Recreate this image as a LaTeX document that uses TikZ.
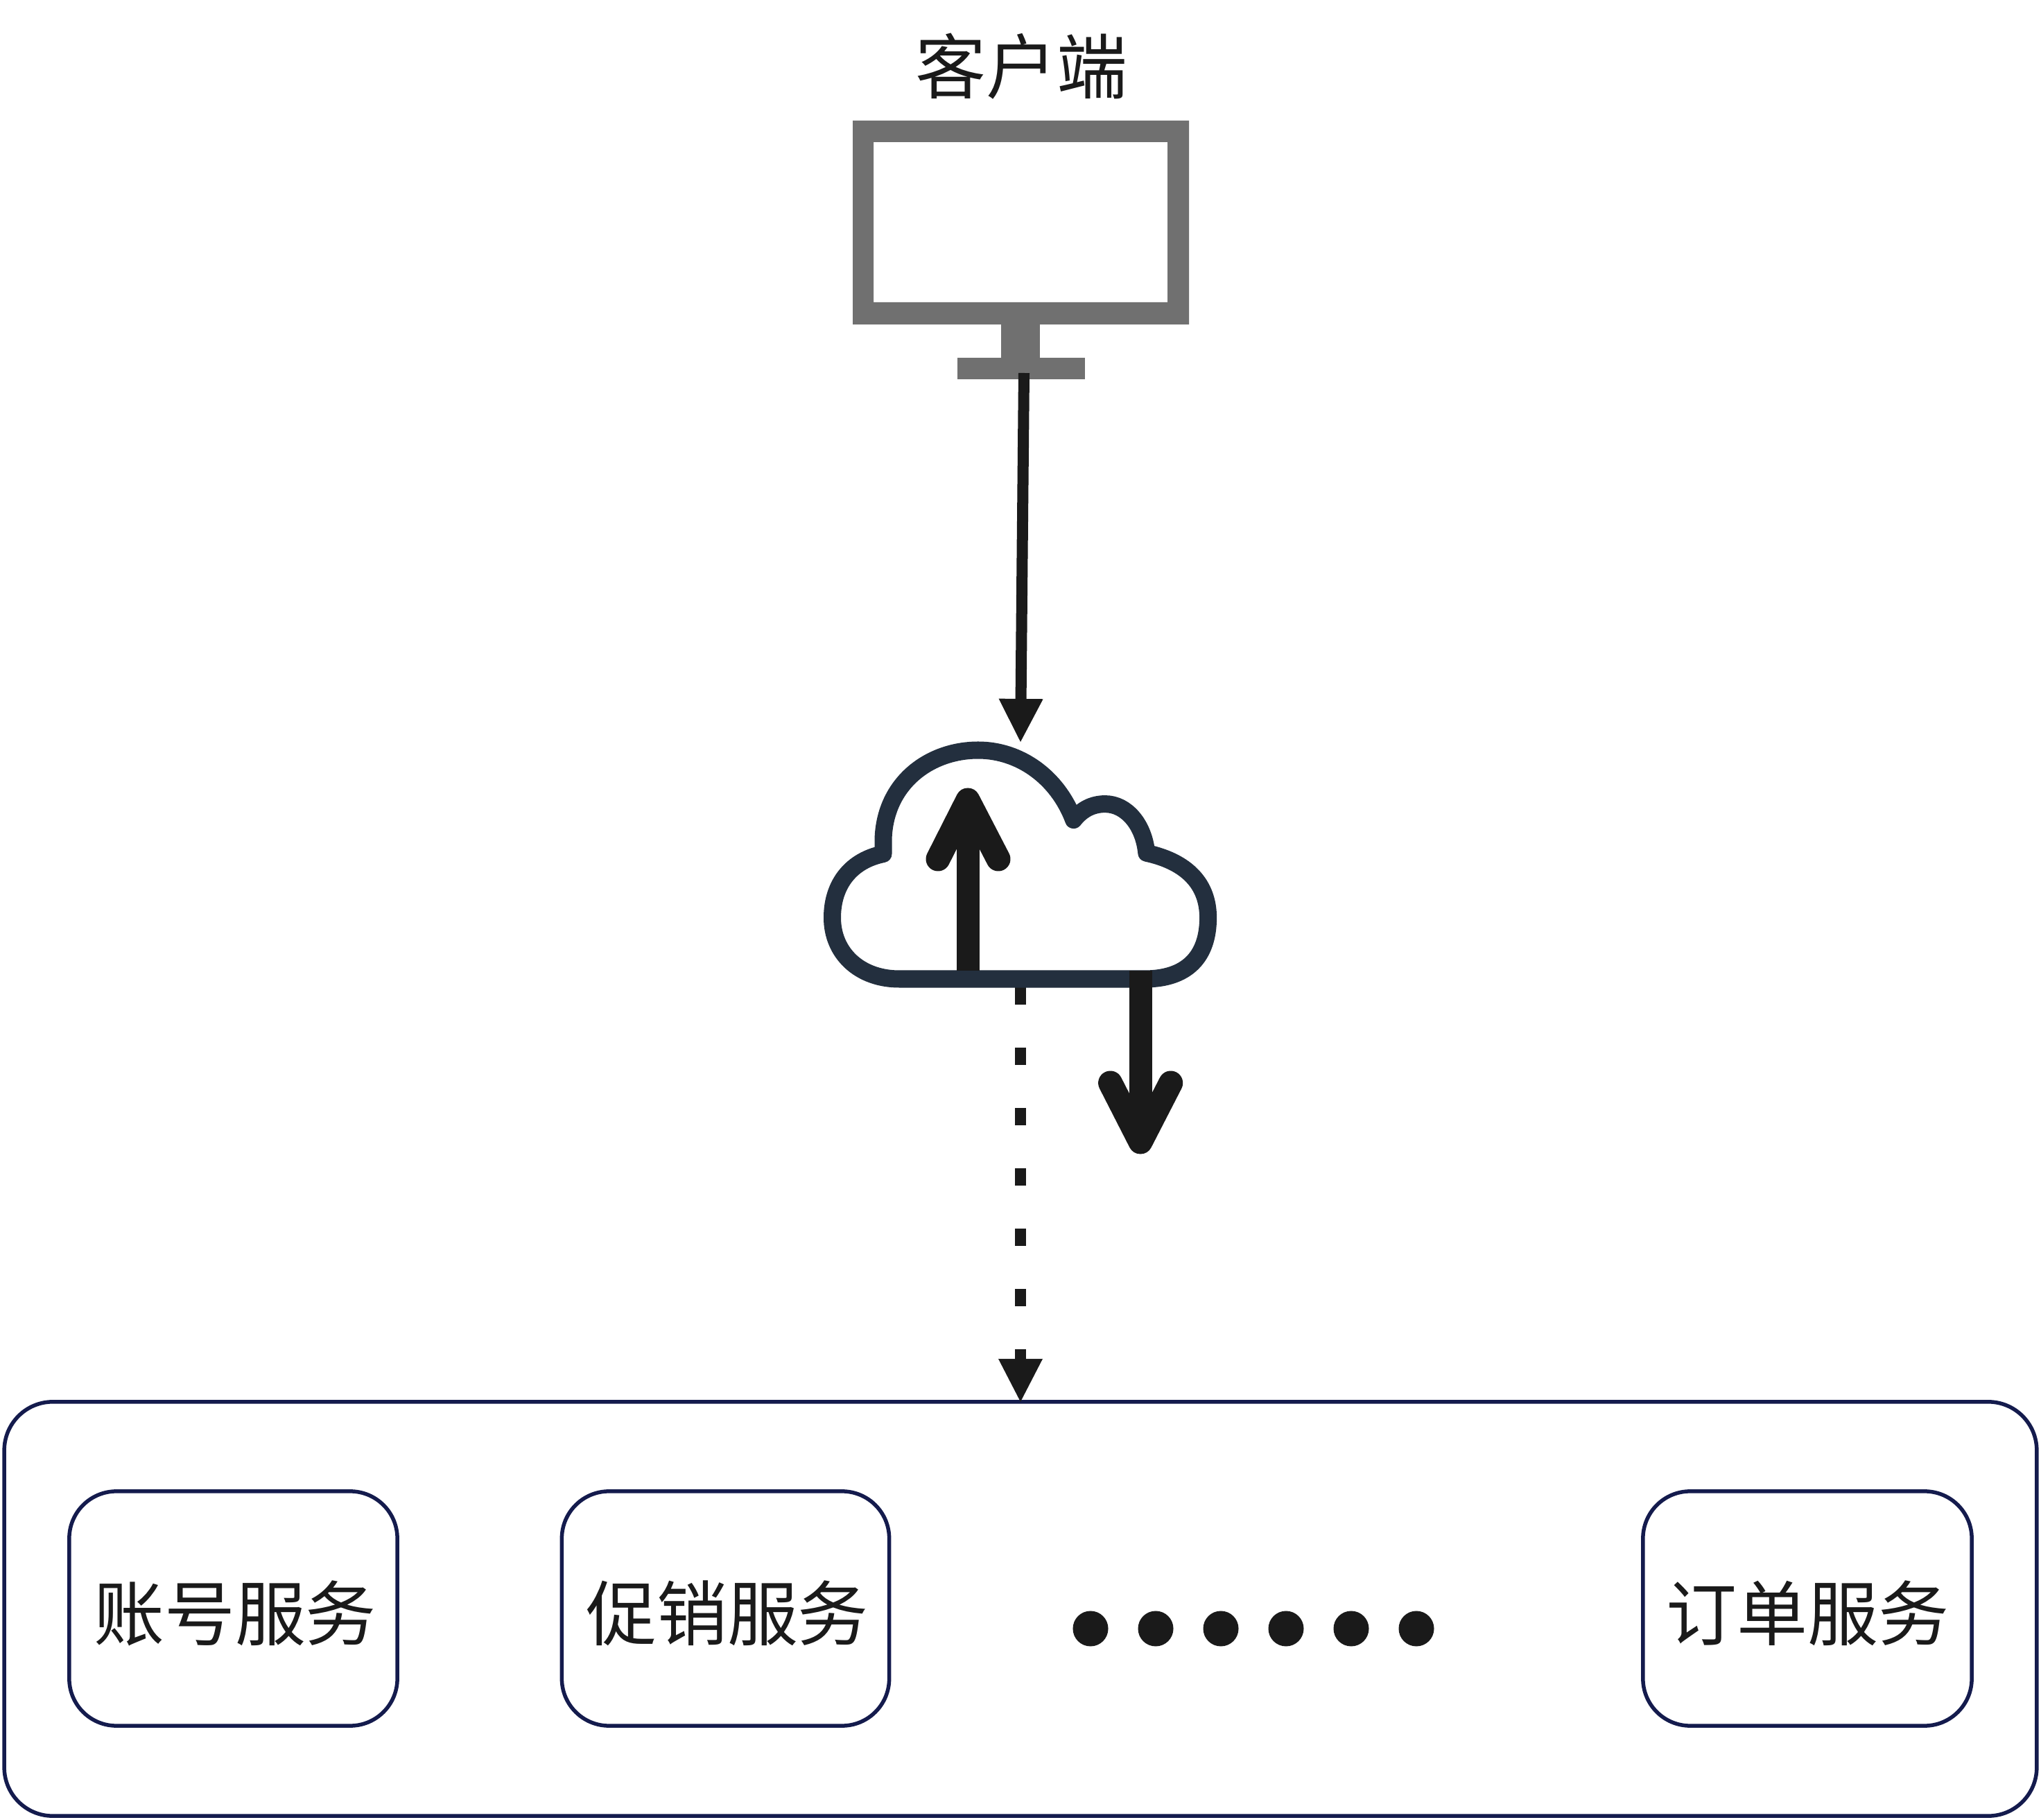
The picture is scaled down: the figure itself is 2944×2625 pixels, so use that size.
\documentclass[tikz,border=0pt]{standalone}
\usepackage{fontspec}
\setmainfont{Noto Sans CJK SC}
\usetikzlibrary{arrows.meta}
\definecolor{ink}{HTML}{1A1A1A}
\definecolor{navy}{HTML}{141B4D}
\definecolor{screen}{HTML}{707070}
\definecolor{cloudc}{HTML}{232F3E}
\tikzset{
  x=0.01cm,y=-0.01cm,
  svcbox/.style={draw=navy,line width=0.055cm,fill=white,rounded corners=0.68cm,text=ink,font=\fontsize{29pt}{32pt}\selectfont,inner sep=0pt,minimum height=3.38cm,text height=1.04cm,text depth=0.14cm},
  mainflow/.style={draw=ink,line width=0.16cm,-{Triangle[length=0.62cm,width=0.64cm,line width=0pt]}},
  dashflow/.style={mainflow,dash pattern=on 0.25cm off 0.62cm},
  dotmark/.style={circle,fill=ink,inner sep=0pt,minimum size=0.51cm},
  cloudline/.style={draw=cloudc,line width=0.25cm,line join=round,fill=white},
  shaft/.style={draw=ink,line width=0.33cm},
  head/.style={draw=ink,line width=0.35cm,line cap=round,line join=round},
}
\begin{document}
\begin{tikzpicture}
\useasboundingbox (0,0) rectangle (2944,2625);
\fill[white] (0,0) rectangle (2944,2625);
% client monitor
\node[text=ink,font=\fontsize{29pt}{32pt}\selectfont,inner sep=0pt] (clientlabel) at (1473,96) {客户端};
\fill[screen,even odd rule] (1230,174) rectangle (1715,468) (1260,205) rectangle (1684,436);
\fill[screen] (1444,468) rectangle (1500,516);
\fill[screen] (1380.5,516) rectangle (1565,547);
\coordinate (clientbase) at (1477,538);
\coordinate (cloudtop) at (1472,1070);
% service group
\node[draw=navy,line width=0.055cm,fill=white,rounded corners=0.7cm,minimum width=29.3cm,minimum height=5.97cm,inner sep=0pt,outer sep=0pt] (group) at (1472,2320.5) {};
\node[svcbox,minimum width=4.73cm] (account) at (336.5,2320) {\hspace*{0.05cm}账号服务};
\node[svcbox,minimum width=4.72cm] (promo) at (1046.5,2320) {\hspace*{0.05cm}促销服务};
\node[svcbox,minimum width=4.74cm] (order) at (2607,2320) {订单服务};
\foreach \i/\x in {1/1573,2/1667,3/1761,4/1855,5/1949,6/2043}
  \node[dotmark] (dot\i) at (\x,2349) {};
% connectors
\coordinate (cloudbottom) at (1472,1424);
\draw[dashflow] (cloudbottom) -- (group.north);
\draw[mainflow] (clientbase) -- (cloudtop);
% cloud
\path[cloudline] (1297,1412) -- (1651,1412)
  .. controls (1712,1412) and (1742.6,1380) .. (1742.6,1323.6)
  .. controls (1742.6,1275) and (1712,1243) .. (1653.8,1230.3)
  .. controls (1650,1190) and (1625,1159.6) .. (1594,1159.6)
  .. controls (1575,1159.6) and (1560,1168) .. (1548.6,1182.6)
  .. controls (1525,1120) and (1470,1082) .. (1411,1082)
  .. controls (1340,1082) and (1276,1130) .. (1274,1211) -- (1274,1231.6)
  .. controls (1228,1241) and (1200.5,1275) .. (1200.5,1323.6)
  .. controls (1200.5,1375) and (1240,1412) .. (1297,1412) -- cycle;
% up arrow
\coordinate (upbase) at (1396,1400);
\coordinate (uptip) at (1396,1154);
\draw[shaft] (upbase) -- ([yshift=-0.2cm]uptip);
\draw[head] (1353,1239) -- (uptip) -- (1440,1239);
% down arrow
\coordinate (downbase) at (1645,1400);
\coordinate (downtip) at (1645,1647);
\draw[shaft] (downbase) -- ([yshift=0.2cm]downtip);
\draw[head] (1601.6,1562) -- (downtip) -- (1688.7,1562);
\end{tikzpicture}
\end{document}
